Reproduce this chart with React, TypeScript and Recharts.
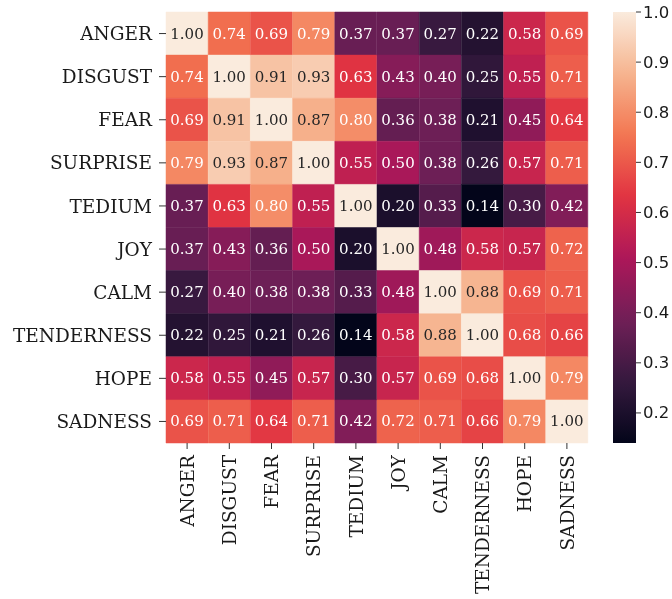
import React from "react";
import { BarChart, Bar, XAxis, YAxis, Cell, LabelList } from "recharts";

const emotions = ["ANGER", "DISGUST", "FEAR", "SURPRISE", "TEDIUM", "JOY", "CALM", "TENDERNESS", "HOPE", "SADNESS"];

const rowAnger = [1.0, 0.74, 0.69, 0.79, 0.37, 0.37, 0.27, 0.22, 0.58, 0.69];
const rowDisgust = [0.74, 1.0, 0.91, 0.93, 0.63, 0.43, 0.4, 0.25, 0.55, 0.71];
const rowFear = [0.69, 0.91, 1.0, 0.87, 0.8, 0.36, 0.38, 0.21, 0.45, 0.64];
const rowSurprise = [0.79, 0.93, 0.87, 1.0, 0.55, 0.5, 0.38, 0.26, 0.57, 0.71];
const rowTedium = [0.37, 0.63, 0.8, 0.55, 1.0, 0.2, 0.33, 0.14, 0.3, 0.42];
const rowJoy = [0.37, 0.43, 0.36, 0.5, 0.2, 1.0, 0.48, 0.58, 0.57, 0.72];
const rowCalm = [0.27, 0.4, 0.38, 0.38, 0.33, 0.48, 1.0, 0.88, 0.69, 0.71];
const rowTenderness = [0.22, 0.25, 0.21, 0.26, 0.14, 0.58, 0.88, 1.0, 0.68, 0.66];
const rowHope = [0.58, 0.55, 0.45, 0.57, 0.3, 0.57, 0.69, 0.68, 1.0, 0.79];
const rowSadness = [0.69, 0.71, 0.64, 0.71, 0.42, 0.72, 0.71, 0.66, 0.79, 1.0];

const matrix = [rowAnger, rowDisgust, rowFear, rowSurprise, rowTedium, rowJoy, rowCalm, rowTenderness, rowHope, rowSadness];

const colorbarTicks = [0.2, 0.3, 0.4, 0.5, 0.6, 0.7, 0.8, 0.9, 1.0];
const VMIN = 0.14;
const VMAX = 1.0;

// rocket colormap approximation
const rocketStops: [number, [number, number, number]][] = [
  [0.0, [3, 5, 26]],
  [1 / 7, [53, 25, 62]],
  [2 / 7, [112, 31, 87]],
  [3 / 7, [173, 23, 89]],
  [4 / 7, [225, 51, 66]],
  [5 / 7, [243, 118, 81]],
  [6 / 7, [246, 180, 143]],
  [1.0, [250, 235, 221]],
];

function rocketRGB(t: number): [number, number, number] {
  const tt = Math.max(0, Math.min(1, t));
  for (let i = 0; i < rocketStops.length - 1; i++) {
    const [a, ca] = rocketStops[i];
    const [b, cb] = rocketStops[i + 1];
    if (tt <= b) {
      const f = (tt - a) / (b - a);
      return [0, 1, 2].map((k) => Math.round(ca[k] + (cb[k] - ca[k]) * f)) as [number, number, number];
    }
  }
  return rocketStops[rocketStops.length - 1][1];
}
const norm = (v: number) => (v - VMIN) / (VMAX - VMIN);
const rgbStr = (c: number[]) => `rgb(${c[0]},${c[1]},${c[2]})`;
const cellColor = (v: number) => rgbStr(rocketRGB(norm(v)));
function textColor(v: number) {
  const c = rocketRGB(norm(v)).map((x) => {
    const s = x / 255;
    return s <= 0.03928 ? s / 12.92 : Math.pow((s + 0.055) / 1.055, 2.4);
  });
  const lum = 0.2126 * c[0] + 0.7152 * c[1] + 0.0722 * c[2];
  return lum > 0.408 ? "#262626" : "#ffffff";
}

const data = emotions.map((name) => {
  const o: Record<string, any> = { name };
  emotions.forEach((_, i) => (o[`r${i}`] = 1));
  return o;
});

const FONT = "'DejaVu Serif', serif";
const SANS = "'DejaVu Sans', sans-serif";

const XTick = (props: any) => {
  const { x, y, payload } = props;
  return (
    <text x={x} y={y} transform={`rotate(-90, ${x}, ${y})`} textAnchor="end" dy="0.36em" fontFamily={FONT} fontSize={18.5} fill="#1a1a1a">
      {payload.value}
    </text>
  );
};

export default function App() {
  const cbTop = 4;
  const cbBottom = 435;
  const cbY = (v: number) => cbTop + ((VMAX - v) / (VMAX - VMIN)) * (cbBottom - cbTop);
  return (
    <div style={{ position: "fixed", left: 8, top: 8, width: 664, height: 591 }}>
      <BarChart width={664} height={591} data={data} margin={{ top: 4, right: 84, left: 0, bottom: 8 }} barCategoryGap={0} barGap={0}>
        <XAxis
          dataKey="name"
          type="category"
          interval={0}
          height={148}
          tick={<XTick />}
          tickSize={6}
          tickMargin={6}
          axisLine={false}
          tickLine={{ stroke: "#333" }}
        />
        <YAxis
          type="number"
          domain={[0, 10]}
          reversed
          ticks={[0.5, 1.5, 2.5, 3.5, 4.5, 5.5, 6.5, 7.5, 8.5, 9.5]}
          interval={0}
          tickFormatter={(v: number) => emotions[Math.floor(v)]}
          width={158}
          tickSize={7}
          tickMargin={7}
          axisLine={false}
          tickLine={{ stroke: "#333" }}
          tick={{ fontFamily: FONT, fontSize: 18.5, fill: "#1a1a1a" }}
        />
        {emotions.map((_, i) => (
          <Bar key={i} dataKey={`r${i}`} stackId="a" isAnimationActive={false}>
            {emotions.map((__, j) => (
              <Cell key={j} fill={cellColor(matrix[i][j])} stroke={cellColor(matrix[i][j])} strokeWidth={0.5} />
            ))}
            <LabelList
              dataKey={`r${i}`}
              content={(p: any) => {
                const v = matrix[i][p.index];
                return (
                  <text
                    x={p.x + p.width / 2}
                    y={p.y + p.height / 2}
                    textAnchor="middle"
                    dominantBaseline="central"
                    fontFamily={FONT}
                    fontSize={15}
                    fill={textColor(v)}
                  >
                    {v.toFixed(2)}
                  </text>
                );
              }}
            />
          </Bar>
        ))}
      </BarChart>
      <svg width={664} height={591} style={{ position: "absolute", left: 0, top: 0, pointerEvents: "none", overflow: "visible" }}>
        <defs>
          <linearGradient id="rocketGrad" x1="0" y1="1" x2="0" y2="0">
            {Array.from({ length: 41 }, (_, k) => (
              <stop key={k} offset={`${(k / 40) * 100}%`} stopColor={rgbStr(rocketRGB(k / 40))} />
            ))}
          </linearGradient>
        </defs>
        <rect x={605} y={cbTop} width={23} height={cbBottom - cbTop} fill="url(#rocketGrad)" />
        {colorbarTicks.map((t) => (
          <g key={t}>
            <line x1={628} x2={633} y1={cbY(t)} y2={cbY(t)} stroke="#333" />
            <text x={635} y={cbY(t)} dominantBaseline="central" fontFamily={SANS} fontSize={16.5} fill="#1a1a1a">
              {t.toFixed(1)}
            </text>
          </g>
        ))}
      </svg>
    </div>
  );
}
